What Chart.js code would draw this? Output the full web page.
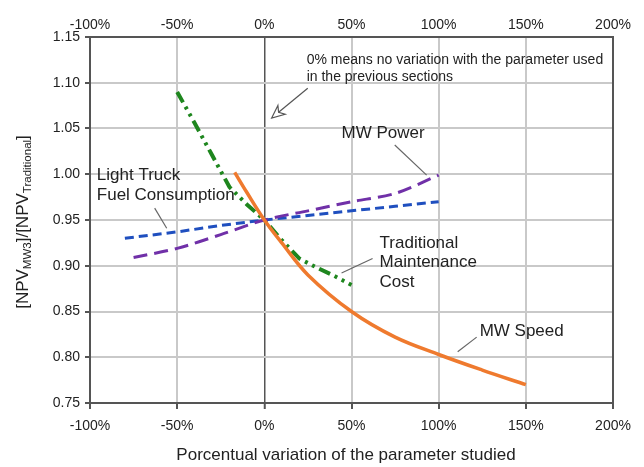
<!DOCTYPE html>
<html>
<head>
<meta charset="utf-8">
<script src="https://cdn.jsdelivr.net/npm/chart.js@4.4.1/dist/chart.umd.min.js"></script>
<style>
  html, body { margin: 0; padding: 0; background: #fff; }
  #wrap { width: 644px; height: 467px; }
</style>
</head>
<body>
<div id="wrap"><canvas id="c" width="644" height="467"></canvas></div>
<script>
// Percent variation of each parameter (x) and NPV ratio (y)
const xTicks = [-100, -50, 0, 50, 100, 150, 200];
const yTicks = [0.75, 0.80, 0.85, 0.90, 0.95, 1.00, 1.05, 1.10, 1.15];

const speedX = [-17, -10, 0, 10, 25, 50, 75, 100, 125, 150];
const speedY = [1.002, 0.980, 0.950, 0.925, 0.890, 0.850, 0.822, 0.803, 0.786, 0.770];

const powerX = [-75, -50, -25, 0, 25, 50, 75, 100];
const powerY = [0.909, 0.919, 0.934, 0.950, 0.960, 0.970, 0.979, 0.999];

const fuelX = [-80, -50, -25, 0, 25, 50, 75, 100];
const fuelY = [0.930, 0.937, 0.944, 0.950, 0.955, 0.960, 0.965, 0.970];

const maintX = [-50, -40, -30, -20, -10, 0, 10, 20, 30, 40, 50];
const maintY = [1.090, 1.056, 1.021, 0.986, 0.967, 0.950, 0.928, 0.908, 0.898, 0.889, 0.879];

const pts = (xs, ys) => xs.map((x, i) => ({ x: x, y: ys[i] }));

const FONT = '"Liberation Sans", Arial, sans-serif';
const TXT = '#222';

// Callout labels, positioned in data units
const callouts = [
  { lines: ['0% means no variation with the parameter used', 'in the previous sections'], x: 24.3, y: 1.1245, dy: 0.0185, size: 14 },
  { lines: ['MW Power'], x: 44.3, y: 1.045, dy: 0, size: 17 },
  { lines: ['Light Truck', 'Fuel Consumption'], x: -96.1, y: 0.999, dy: 0.0215, size: 17 },
  { lines: ['Traditional', 'Maintenance', 'Cost'], x: 66.1, y: 0.925, dy: 0.0213, size: 17 },
  { lines: ['MW Speed'], x: 123.5, y: 0.828, dy: 0, size: 17 }
];
const leaders = [
  [74.8, 1.032, 93.1, 0.999],
  [-62.9, 0.963, -56.0, 0.941],
  [62.1, 0.908, 44.3, 0.892],
  [121.8, 0.822, 110.9, 0.806]
];
const arrow = [24.9, 1.094, 4.2, 1.0615];

const decor = {
  id: 'decor',
  afterDatasetsDraw(chart) {
    const { ctx, chartArea: a, scales } = chart;
    const X = v => scales.x.getPixelForValue(v);
    const Y = v => scales.y.getPixelForValue(v);
    ctx.save();
    // frame
    ctx.strokeStyle = '#555';
    ctx.lineWidth = 2;
    ctx.strokeRect(a.left, a.top, a.right - a.left, a.bottom - a.top);

    // leader lines
    ctx.strokeStyle = '#666';
    ctx.lineWidth = 1.2;
    leaders.forEach(l => {
      ctx.beginPath();
      ctx.moveTo(X(l[0]), Y(l[1]));
      ctx.lineTo(X(l[2]), Y(l[3]));
      ctx.stroke();
    });

    // arrow pointing at the 0% line
    const x1 = X(arrow[0]), y1 = Y(arrow[1]), x2 = X(arrow[2]), y2 = Y(arrow[3]);
    const ang = Math.atan2(y2 - y1, x2 - x1);
    ctx.strokeStyle = '#555';
    ctx.lineWidth = 1.2;
    ctx.beginPath();
    ctx.moveTo(x1, y1);
    ctx.lineTo(x2 - 9 * Math.cos(ang), y2 - 9 * Math.sin(ang));
    ctx.stroke();
    const hl = 14, hw = 0.42;
    ctx.beginPath();
    ctx.moveTo(x2 - hl * Math.cos(ang - hw), y2 - hl * Math.sin(ang - hw));
    ctx.lineTo(x2, y2);
    ctx.lineTo(x2 - hl * Math.cos(ang + hw), y2 - hl * Math.sin(ang + hw));
    ctx.lineTo(x2 - 9 * Math.cos(ang), y2 - 9 * Math.sin(ang));
    ctx.closePath();
    ctx.stroke();

    // callout texts
    ctx.fillStyle = TXT;
    ctx.textAlign = 'left';
    ctx.textBaseline = 'middle';
    callouts.forEach(c => {
      ctx.font = c.size + 'px ' + FONT;
      c.lines.forEach((t, i) => ctx.fillText(t, X(c.x), Y(c.y - i * c.dy)));
    });

    // x axis title
    ctx.font = '17px ' + FONT;
    ctx.textAlign = 'center';
    ctx.fillText('Porcentual variation of the parameter studied', 346, 455);

    // y axis title with subscripts
    ctx.translate(23, 222);
    ctx.rotate(-Math.PI / 2);
    const parts = [['[NPV', 17, 0], ['MW3', 11.5, 5], [']/[NPV', 17, 0], ['Traditional', 11.5, 5], [']', 17, 0]];
    let w = 0;
    parts.forEach(p => { ctx.font = p[1] + 'px ' + FONT; w += ctx.measureText(p[0]).width; });
    let cx = -w / 2;
    ctx.textAlign = 'left';
    parts.forEach(p => {
      ctx.font = p[1] + 'px ' + FONT;
      ctx.fillText(p[0], cx, p[2]);
      cx += ctx.measureText(p[0]).width;
    });
    ctx.restore();
  }
};

const pctLabel = v => v + '%';

new Chart(document.getElementById('c'), {
  type: 'line',
  data: {
    datasets: [
      { label: 'MW Speed', data: pts(speedX, speedY), borderColor: '#ef7a2e', borderWidth: 3.5,
        tension: 0.35, pointRadius: 0 },
      { label: 'MW Power', data: pts(powerX, powerY), borderColor: '#7030a8', borderWidth: 3,
        borderDash: [14, 7], tension: 0.3, pointRadius: 0 },
      { label: 'Light Truck Fuel Consumption', data: pts(fuelX, fuelY), borderColor: '#1f4fbf', borderWidth: 3,
        borderDash: [9, 5], pointRadius: 0 },
      { label: 'Traditional Maintenance Cost', data: pts(maintX, maintY), borderColor: '#1e861e', borderWidth: 4,
        borderDash: [12, 5, 3, 5, 3, 5], pointRadius: 0 }
    ]
  },
  options: {
    responsive: false,
    animation: false,
    layout: { padding: { left: 0, right: 31, top: 0, bottom: 0 } },
    plugins: { legend: { display: false }, tooltip: { enabled: false } },
    scales: {
      x: {
        type: 'linear', position: 'bottom', min: -100, max: 200,
        afterBuildTicks: s => { s.ticks = xTicks.map(v => ({ value: v })); },
        afterFit: s => { s.height = 64; },
        ticks: { callback: pctLabel, color: TXT, font: { family: FONT, size: 14 }, padding: 9, maxRotation: 0 },
        grid: {
          color: c => (c.tick && c.tick.value === 0) ? '#555' : '#c9c9c9',
          lineWidth: c => (c.tick && c.tick.value === 0) ? 1.5 : 2,
          tickLength: 6, tickColor: '#555', tickWidth: 2
        },
        border: { display: false }
      },
      x2: {
        type: 'linear', position: 'top', min: -100, max: 200,
        afterBuildTicks: s => { s.ticks = xTicks.map(v => ({ value: v })); },
        afterFit: s => { s.height = 37; },
        ticks: { callback: pctLabel, color: TXT, font: { family: FONT, size: 14 }, padding: 3, maxRotation: 0 },
        grid: { display: false, drawTicks: false },
        border: { display: false }
      },
      y: {
        type: 'linear', min: 0.75, max: 1.15,
        afterBuildTicks: s => { s.ticks = yTicks.map(v => ({ value: v })); },
        afterFit: s => { s.width = 90; },
        ticks: { callback: v => v.toFixed(2), color: TXT, font: { family: FONT, size: 14 }, padding: 5 },
        grid: { color: '#c9c9c9', lineWidth: 2, tickLength: 5, tickColor: '#555', tickWidth: 2 },
        border: { display: false }
      }
    }
  },
  plugins: [decor]
});
</script>
</body>
</html>
